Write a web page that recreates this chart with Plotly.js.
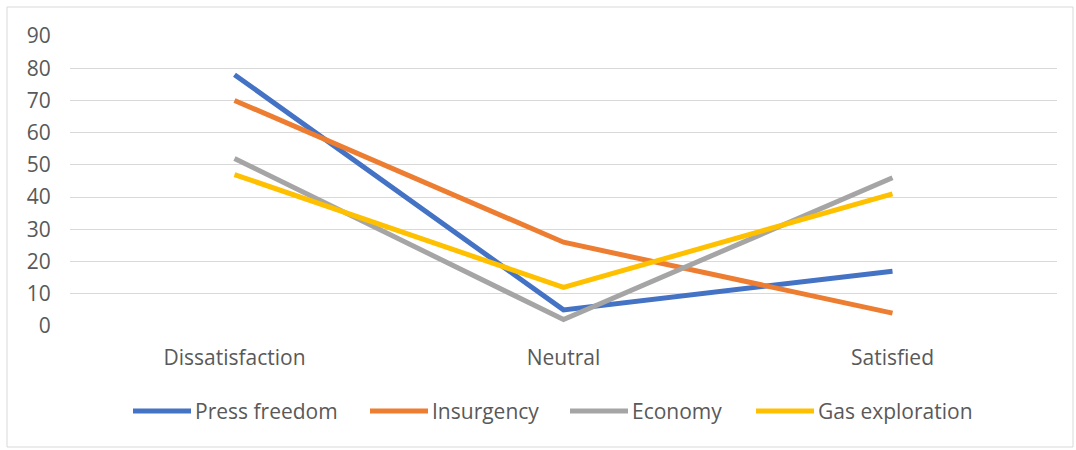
<!DOCTYPE html>
<html>
<head>
<meta charset="utf-8">
<script src="https://cdn.plot.ly/plotly-3.0.1.min.js"></script>
<style>html,body{margin:0;padding:0;background:#fff;} #chart{width:1076px;height:450px;}</style>
</head>
<body>
<div id="chart"></div>
<script>
const categories = ["Dissatisfaction", "Neutral", "Satisfied"];
const pressFreedom = [78, 5, 17];
const insurgency = [70, 26, 4];
const economy = [52, 2, 46];
const gasExploration = [47, 12, 41];
const seriesNames = ["Press freedom", "Insurgency", "Economy", "Gas exploration"];
const seriesColors = ["#4472C4", "#ED7D31", "#A5A5A5", "#FFC000"];
const yTicks = [0, 10, 20, 30, 40, 50, 60, 70, 80, 90];

const allValues = [pressFreedom, insurgency, economy, gasExploration];
const traces = allValues.map((vals, i) => ({
  type: 'scatter', mode: 'lines',
  x: categories, y: vals, name: seriesNames[i],
  line: {color: seriesColors[i], width: 5},
  showlegend: false
}));

// plot-area geometry (pixels) used to place the legend and frame
const W = 1076, H = 450;
const mL = 70, mR = 19, mT = 36, mB = 124;
const pw = W - mL - mR, ph = H - mT - mB;
const px = x => (x - mL) / pw;
const py = y => (H - mB - y) / ph;

// custom legend with long line samples like the original
const legendStarts = [133, 370, 570, 756];
const legendLineLen = 58, legendY = 411;
const shapes = [{type: 'rect', xref: 'paper', yref: 'paper',
  x0: px(7), x1: px(1073), y0: py(447), y1: py(7),
  line: {color: '#d9d9d9', width: 1}, fillcolor: 'rgba(0,0,0,0)', layer: 'below'}];
const annotations = [];
const fam = 'Open Sans, Liberation Sans, sans-serif';
seriesNames.forEach((name, i) => {
  shapes.push({type: 'line', xref: 'paper', yref: 'paper',
    x0: px(legendStarts[i]), x1: px(legendStarts[i] + legendLineLen),
    y0: py(legendY), y1: py(legendY),
    line: {color: seriesColors[i], width: 5}});
  annotations.push({xref: 'paper', yref: 'paper', x: px(legendStarts[i] + legendLineLen + 2),
    y: py(legendY), xanchor: 'left', yanchor: 'middle', showarrow: false, text: name,
    font: {family: fam, size: 21, color: '#595959'}});
});

const layout = {
  width: W, height: H,
  margin: {l: mL, r: mR, t: mT, b: mB},
  paper_bgcolor: '#ffffff', plot_bgcolor: '#ffffff',
  font: {family: fam, size: 21, color: '#595959'},
  showlegend: false,
  xaxis: {type: 'category', range: [-0.5, 2.5], showgrid: false, zeroline: false, showline: false,
          ticks: 'outside', ticklen: 13, tickcolor: 'rgba(0,0,0,0)',
          tickfont: {family: fam, size: 21, color: '#595959'}, fixedrange: true},
  yaxis: {range: [0, 90], tickvals: yTicks, ticktext: yTicks.map(String), showgrid: true,
          gridcolor: '#d9d9d9', gridwidth: 1, zeroline: false, showline: false,
          ticks: 'outside', ticklen: 14, tickcolor: 'rgba(0,0,0,0)',
          tickfont: {family: fam, size: 21, color: '#595959'}, fixedrange: true},
  shapes: shapes,
  annotations: annotations
};
Plotly.newPlot('chart', traces, layout, {displayModeBar: false, staticPlot: true});
</script>
</body>
</html>
